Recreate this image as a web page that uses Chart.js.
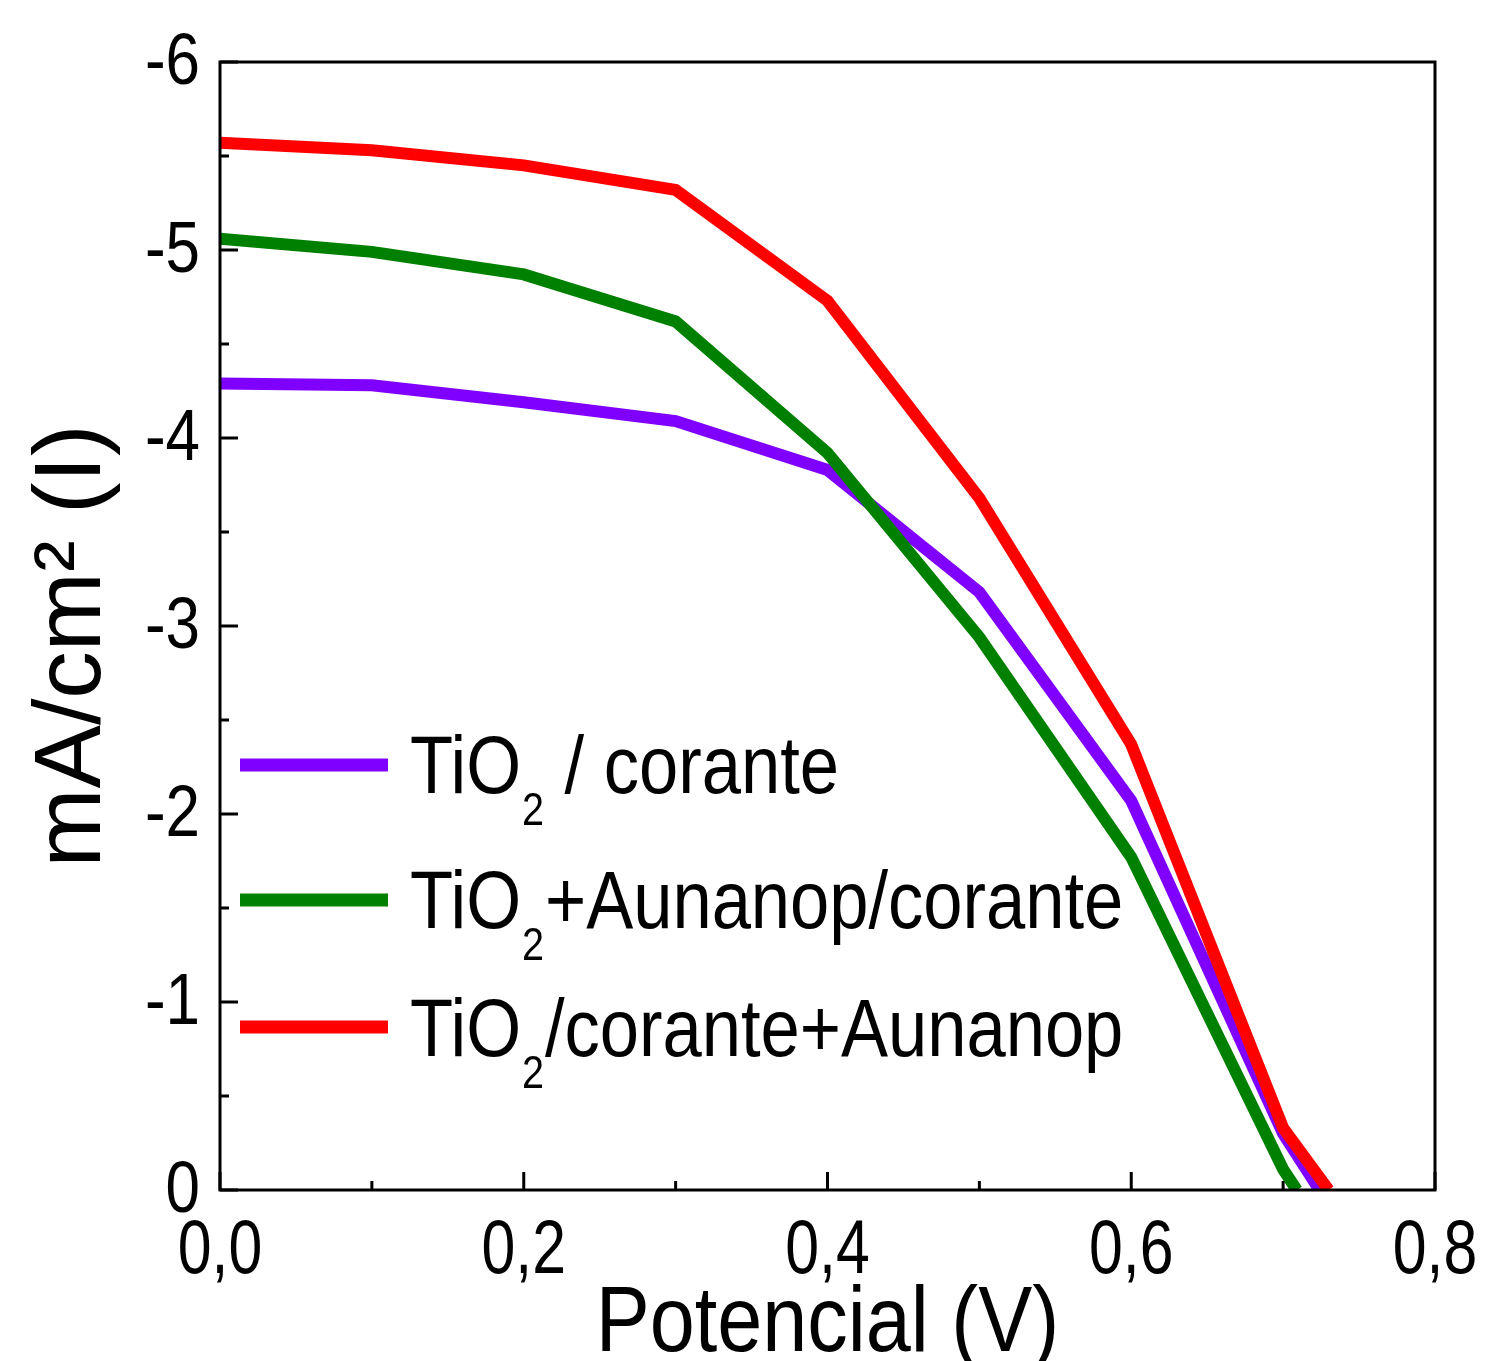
<!DOCTYPE html>
<html><head><meta charset="utf-8">
<script src="https://cdn.jsdelivr.net/npm/chart.js@4/dist/chart.umd.min.js"></script>
<style>html,body{margin:0;padding:0;background:#fff}#c{display:block}</style>
</head><body>
<canvas id="c" width="1485" height="1361"></canvas>
<script>
// ---- data ----
const seriesLabels = ['TiO₂ / corante', 'TiO₂+Aunanop/corante', 'TiO₂/corante+Aunanop'];
const seriesColors = ['#8000FF', '#008000', '#FF0000'];
const purpleX = [0, 0.1, 0.2, 0.3, 0.4, 0.5, 0.6, 0.7, 0.724];
const purpleY = [-4.29, -4.28, -4.19, -4.09, -3.83, -3.18, -2.07, -0.30, 0];
const greenX  = [0, 0.1, 0.2, 0.3, 0.4, 0.5, 0.6, 0.7, 0.709];
const greenY  = [-5.06, -4.99, -4.87, -4.62, -3.92, -2.94, -1.77, -0.11, 0];
const redX    = [0, 0.1, 0.2, 0.3, 0.4, 0.5, 0.6, 0.7, 0.730];
const redY    = [-5.57, -5.53, -5.45, -5.32, -4.73, -3.68, -2.37, -0.33, 0];
const xTickValues = [0, 0.2, 0.4, 0.6, 0.8];
const xTickLabels = ['0,0', '0,2', '0,4', '0,6', '0,8'];
const xMinorValues = [0.1, 0.3, 0.5, 0.7];
const yTickValues = [-6, -5, -4, -3, -2, -1, 0];
const yTickLabels = ['-6', '-5', '-4', '-3', '-2', '-1', '0'];
const yMinorValues = [-5.5, -4.5, -3.5, -2.5, -1.5, -0.5];
const xTitle = 'Potencial (V)';
const yTitle = 'mA/cm² (I)';

const SANS = "'Liberation Sans',Arial,sans-serif";

function pts(xs, ys) { return xs.map((x, i) => ({x: x, y: ys[i]})); }

// draw horizontally condensed text (Arial Narrow look)
function narrowText(ctx, text, x, y, size, sx, align) {
  ctx.save();
  ctx.translate(x, y);
  ctx.scale(sx, 1);
  ctx.font = size + 'px ' + SANS;
  ctx.textAlign = align;
  ctx.textBaseline = 'alphabetic';
  ctx.fillText(text, 0, 0);
  const w = ctx.measureText(text).width * sx;
  ctx.restore();
  return w;
}

const decorPlugin = {
  id: 'decor',
  afterDatasetsDraw(chart) {
    const {ctx, chartArea: a, scales: {x, y}} = chart;
    ctx.save();
    ctx.strokeStyle = '#000';
    ctx.lineWidth = 3;
    ctx.lineCap = 'butt';
    ctx.beginPath();
    xTickValues.forEach(v => { const p = x.getPixelForValue(v); ctx.moveTo(p, a.bottom); ctx.lineTo(p, a.bottom - 18); });
    xMinorValues.forEach(v => { const p = x.getPixelForValue(v); ctx.moveTo(p, a.bottom); ctx.lineTo(p, a.bottom - 9); });
    yTickValues.forEach(v => { const p = y.getPixelForValue(v); ctx.moveTo(a.left, p); ctx.lineTo(a.left + 18, p); });
    yMinorValues.forEach(v => { const p = y.getPixelForValue(v); ctx.moveTo(a.left, p); ctx.lineTo(a.left + 9, p); });
    ctx.stroke();
    ctx.lineJoin = 'miter';
    ctx.strokeRect(a.left, a.top, a.right - a.left, a.bottom - a.top);
    ctx.restore();
  },
  afterDraw(chart) {
    const {ctx, chartArea: a, scales: {x, y}} = chart;
    ctx.save();
    ctx.fillStyle = '#000';
    // tick labels
    yTickValues.forEach((v, i) => narrowText(ctx, yTickLabels[i], a.left - 20, y.getPixelForValue(v) + 22, 72, 0.86, 'right'));
    xTickValues.forEach((v, i) => narrowText(ctx, xTickLabels[i], x.getPixelForValue(v), a.bottom + 83, 76, 0.8, 'center'));
    // x title
    narrowText(ctx, xTitle, (a.left + a.right) / 2, 1351, 92, 0.88, 'center');
    // y title
    ctx.save();
    ctx.translate(100, 646);
    ctx.rotate(-Math.PI / 2);
    ctx.font = '95px ' + SANS;
    ctx.textAlign = 'center';
    ctx.textBaseline = 'alphabetic';
    ctx.fillText(yTitle, 0, 0);
    ctx.restore();
    // legend
    const lineY = [765, 900, 1027];
    const baseY = [793, 928, 1056];
    chart.data.datasets.forEach((ds, i) => {
      ctx.strokeStyle = ds.borderColor;
      ctx.lineWidth = 13;
      ctx.lineCap = 'butt';
      ctx.beginPath();
      ctx.moveTo(240, lineY[i]);
      ctx.lineTo(388, lineY[i]);
      ctx.stroke();
      const parts = ds.label.split('₂');
      let cx = 410;
      cx += narrowText(ctx, parts[0], cx, baseY[i], 82, 0.86, 'left');
      cx += narrowText(ctx, '2', cx + 1, baseY[i] + 32, 46, 0.86, 'left') + 2;
      narrowText(ctx, parts[1], cx, baseY[i], 82, 0.86, 'left');
    });
    ctx.restore();
  }
};

new Chart(document.getElementById('c'), {
  type: 'line',
  data: {
    datasets: [
      {label: seriesLabels[0], data: pts(purpleX, purpleY), borderColor: seriesColors[0], order: 2},
      {label: seriesLabels[1], data: pts(greenX, greenY), borderColor: seriesColors[1], order: 1},
      {label: seriesLabels[2], data: pts(redX, redY), borderColor: seriesColors[2], order: 0}
    ].map(d => Object.assign(d, {borderWidth: 12, pointRadius: 0, fill: false, tension: 0, borderJoinStyle: 'miter', clip: 0}))
  },
  options: {
    responsive: false,
    animation: false,
    events: [],
    layout: {padding: {top: 62, right: 50, left: 0, bottom: 0}},
    plugins: {legend: {display: false}, tooltip: {enabled: false}},
    scales: {
      x: {
        type: 'linear', min: 0, max: 0.8,
        grid: {display: false, drawTicks: false},
        border: {display: false},
        ticks: {display: false},
        afterFit(s) { s.height = 171; }
      },
      y: {
        type: 'linear', min: -6, max: 0, reverse: true,
        grid: {display: false, drawTicks: false},
        border: {display: false},
        ticks: {display: false},
        afterFit(s) { s.width = 220; }
      }
    }
  },
  plugins: [decorPlugin]
});
</script>
</body></html>
